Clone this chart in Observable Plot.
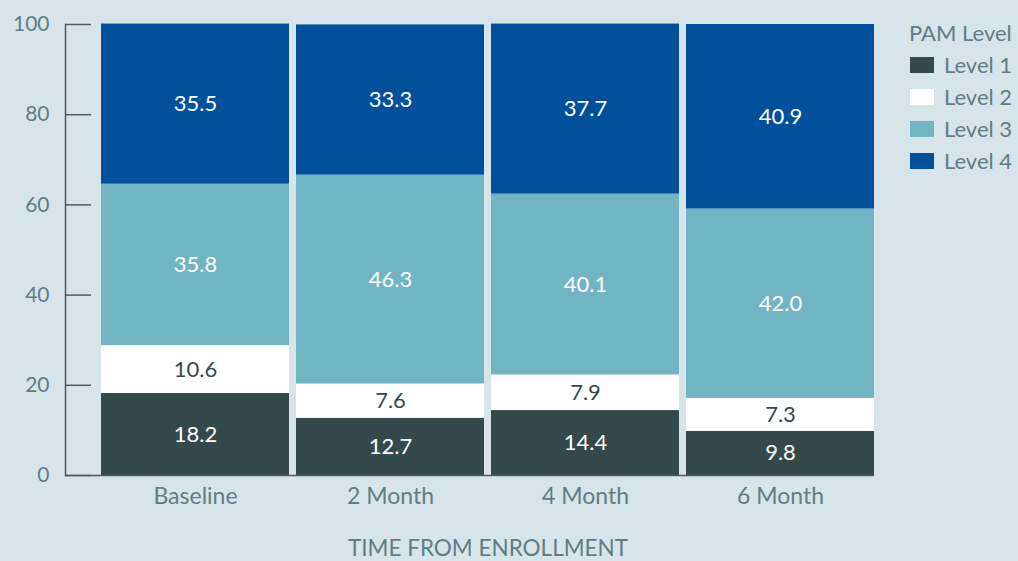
<!DOCTYPE html>
<html>
<head>
<meta charset="utf-8">
<script src="https://cdn.jsdelivr.net/npm/d3@7"></script>
<script src="https://cdn.jsdelivr.net/npm/@observablehq/plot@0.6"></script>
<style>
  body { margin: 0; background: #d7e5eb; }
  #wrap { position: relative; width: 1018px; height: 561px; background: #d7e5eb; font-family: Lato, "Open Sans", sans-serif; }
  #legend { position: absolute; left: 909px; top: 19px; color: #5f7e84; font-size: 22px; line-height: 28px; white-space: nowrap; }
  #legend .item { display: flex; align-items: center; height: 32px; }
  #legend .first { margin-top: 2px; }
  #legend .sw { width: 24px; height: 16px; margin-right: 10px; margin-left: 1px; }
  #xtitle { position: absolute; left: 65px; width: 846px; top: 537px; text-align: center; color: #5f7e84; font-size: 22.5px; line-height: 22px; }
</style>
</head>
<body>
<div id="wrap"><div id="chart"></div><div id="legend"></div><div id="xtitle"></div></div>
<script>
const periods = ["Baseline", "2 Month", "4 Month", "6 Month"];
const levels = ["Level 1", "Level 2", "Level 3", "Level 4"];
const level1 = [18.2, 12.7, 14.4, 9.8];
const level2 = [10.6, 7.6, 7.9, 7.3];
const level3 = [35.8, 46.3, 40.1, 42.0];
const level4 = [35.5, 33.3, 37.7, 40.9];
const yTicks = [0, 20, 40, 60, 80, 100];
const legendTitle = "PAM Level";
const xTitle = "TIME FROM ENROLLMENT";

const levelColors = ["#34494c", "#ffffff", "#71b5c5", "#00509b"];
const labelColors = ["#ffffff", "#34494c", "#ffffff", "#ffffff"];
const textColor = "#5f7e84";
const axisColor = "#4b5d61";
const font = "Lato, 'Open Sans', sans-serif";

const series = [level1, level2, level3, level4];
const rows = [];
levels.forEach((lv, li) => {
  periods.forEach((p, pi) => {
    rows.push({period: p, level: lv, li, value: series[li][pi]});
  });
});

const chart = Plot.plot({
  width: 1018,
  height: 530,
  marginTop: 24,
  marginBottom: 55,
  marginLeft: 65,
  marginRight: 144,
  style: { background: "transparent", fontFamily: font, fontSize: "21px", color: textColor },
  x: { domain: periods, range: [101, 874], paddingInner: 7 / 195, paddingOuter: 0 },
  y: { domain: [0, 100] },
  color: { type: "identity" },
  marks: [
    Plot.barY(rows, { x: "period", y: "value", z: "level", fill: d => levelColors[d.li] }),
    Plot.text(rows, Plot.stackY({ x: "period", y: "value", z: "level", text: d => d.value.toFixed(1), fill: d => labelColors[d.li], fontSize: 22 })),
    Plot.frame({ anchor: "left", stroke: axisColor, strokeWidth: 1.5 }),
    Plot.ruleY([0], { stroke: axisColor, strokeWidth: 1.5 }),
    Plot.axisY({ ticks: yTicks, tickSize: -26, tickPadding: 42, label: null, fontSize: 21, stroke: axisColor, strokeWidth: 1.5 }),
    Plot.axisX({ tickSize: 0, tickPadding: 12, fontSize: 23, label: null })
  ]
});
document.getElementById("chart").appendChild(chart);
chart.style.display = "block";

document.getElementById("xtitle").textContent = xTitle;

const legend = document.getElementById("legend");
const t = document.createElement("div");
t.textContent = legendTitle;
legend.appendChild(t);
levels.forEach((lv, i) => {
  const it = document.createElement("div");
  it.className = "item" + (i === 0 ? " first" : "");
  const sw = document.createElement("span");
  sw.className = "sw";
  sw.style.background = levelColors[i];
  const tx = document.createElement("span");
  tx.textContent = lv;
  it.appendChild(sw);
  it.appendChild(tx);
  legend.appendChild(it);
});
</script>
</body>
</html>
